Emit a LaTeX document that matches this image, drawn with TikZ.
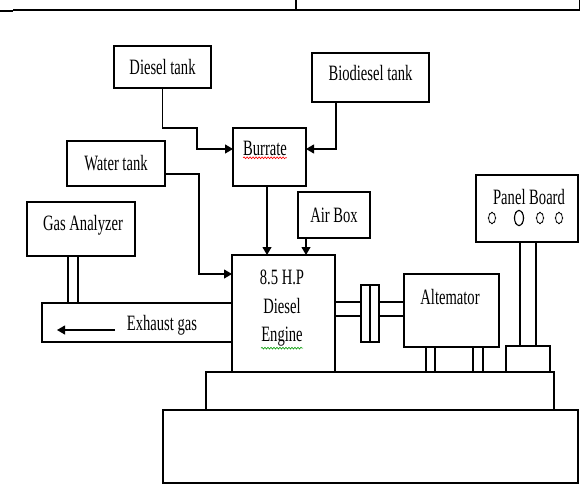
\documentclass[tikz,border=0pt]{standalone}
\usepackage{fontspec}
\setmainfont{Liberation Serif}
\usetikzlibrary{arrows.meta,decorations.pathmorphing}

\newcommand{\tall}[1]{\scalebox{1}[1.5]{#1}}

\begin{document}
\begin{tikzpicture}[x=1pt,y=-1pt,
  every node/.style={outer sep=0pt},
  box/.style={draw, line width=1.1pt, inner sep=0pt, font=\fontsize{14.6}{28.5}\selectfont},
  lbl/.style={inner sep=0pt, align=center, font=\fontsize{14.6}{28.5}\selectfont},
  arr/.style={line width=1.1pt, -{Triangle[length=8pt,width=9pt]}},
  wavy/.style={decorate, decoration={snake, amplitude=0.9pt, segment length=3pt}, line width=0.6pt}]

\useasboundingbox (0,0) rectangle (585,495);

% table edge from the page above
\draw[line width=1.2pt] (13,10) -- (580,10);
\draw[line width=1.2pt] (296,0) -- (296,10);
\draw[line width=1.2pt] (579.5,0) -- (579.5,10);
\draw[line width=2pt] (0,11.5) -- (13,11.5);

% tanks and burrate
\node[box, minimum width=97pt, minimum height=42pt] (diesel) at (162.5,67) {\tall{Diesel tank}};
\node[box, minimum width=117pt, minimum height=49pt] (bio) at (370.5,77.5) {};
\node[lbl] (bio-t) at (370.5,73) {\tall{Biodiesel tank}};
\node[box, minimum width=73pt, minimum height=58pt] (burrate) at (269.5,157) {};
\node[lbl] (burrate-t) at (265,148) {\tall{Burrate}};
\node[box, minimum width=98pt, minimum height=45pt] (water) at (116,163.5) {\tall{Water tank}};
\node[box, minimum width=72pt, minimum height=46pt] (airbox) at (334,215) {\tall{Air Box}};

% gas analyzer and exhaust
\node[box, minimum width=108pt, minimum height=54pt] (gas) at (81,229) {};
\node[lbl] (gas-t) at (83,225) {\tall{Gas Analyzer}};
\node[box, minimum width=190pt, minimum height=39pt] (exhaust) at (137,322.5) {};
\node[lbl] (exhaust-t) at (162,325) {\tall{Exhaust gas}};
\coordinate (exh-start) at (115,330);
\coordinate (exh-end) at (57,330);

% engine, coupling, alternator
\node[box, minimum width=103pt, minimum height=117pt] (engine) at (283.5,313.5) {};
\node[lbl] (engine-t) at (282,308.5) {\tall{8.5 H.P}\\\tall{Diesel}\\\tall{Engine}};
\node[box, minimum width=18pt, minimum height=57pt] (coupling) at (370,313.5) {};
\node[box, minimum width=95pt, minimum height=73pt] (alt) at (451.5,310.5) {};
\node[lbl] (alt-t) at (450,297) {\tall{Altemator}};

% panel board
\node[box, minimum width=102pt, minimum height=67pt] (panel) at (527,208.5) {};
\node[lbl] (panel-t) at (529,197) {\tall{Panel Board}};
\node[box, minimum width=44pt, minimum height=26pt] (postbase) at (528,359) {};

% base
\node[box, minimum width=348pt, minimum height=38pt] (upper) at (380,391) {};
\node[box, minimum width=415pt, minimum height=73pt] (lower) at (370.5,446.5) {};

% feed lines
\draw[arr] (diesel.south) |- (197,128) |- (burrate.west |- 0,149);
\draw[arr] (bio.south -| 336,0) |- (burrate.east |- 0,149);
\draw[arr] (water.east |- 0,174) -| (199,274) -- (engine.west |- 0,274);
\draw[arr] (burrate.south -| 267,0) -- (engine.north -| 267,0);
\draw[arr] (airbox.south -| 306,0) -- (engine.north -| 306,0);
\draw[arr] (exh-start) -- (exh-end);

% pipes, shaft, legs
\foreach \gx in {68,78}
  \draw[line width=1.1pt] (gas.south -| \gx,0) -- (exhaust.north -| \gx,0);
\foreach \sy in {302,316} {
  \draw[line width=1.1pt] (engine.east |- 0,\sy) -- (coupling.west |- 0,\sy);
  \draw[line width=1.1pt] (coupling.east |- 0,\sy) -- (alt.west |- 0,\sy);
}
\draw[line width=1.1pt] (coupling.north) -- (coupling.south);
\foreach \lx in {426,435,473,483}
  \draw[line width=1.1pt] (alt.south -| \lx,0) -- (upper.north -| \lx,0);
\foreach \px in {520,536}
  \draw[line width=1.1pt] (panel.south -| \px,0) -- (postbase.north -| \px,0);

% dials
\foreach \cx/\rx/\ry/\lw in {492/3.5/5.5/0.7, 519/4.5/7.5/1.1, 540/3.5/5.5/0.7, 559/3.5/5.5/0.7} {
  \draw[line width=\lw pt] (\cx,218) ellipse [x radius=\rx pt, y radius=\ry pt];
  \foreach \a in {0,45,...,315}
    \fill (\cx,218) ++(\a:\rx pt and \ry pt) circle (0.8pt);
}

% spell-check marks
\draw[red, wavy] ([yshift=-2.5pt]burrate-t.south west) -- ([yshift=-2.5pt]burrate-t.south east);
\draw[green!60!black, wavy] ([xshift=-21pt,yshift=-1.5pt]engine-t.south) -- ([xshift=21pt,yshift=-1.5pt]engine-t.south);
\end{tikzpicture}
\end{document}
